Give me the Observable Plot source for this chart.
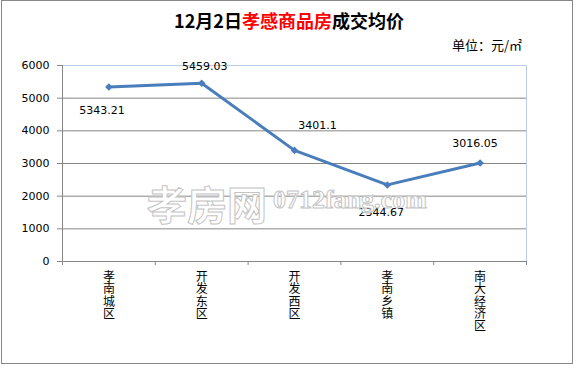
<!DOCTYPE html>
<html><head><meta charset="utf-8">
<script src="https://cdn.jsdelivr.net/npm/d3@7"></script>
<script src="https://cdn.jsdelivr.net/npm/@observablehq/plot@0.6"></script>
<style>
body{margin:0;background:#fff;}
#wrap{position:relative;width:578px;height:366px;overflow:hidden;background:#fff;}
#chart{position:absolute;left:0;top:0;}
#frame{position:absolute;left:1px;top:0;width:572px;height:364px;border:1px solid #888;box-sizing:border-box;pointer-events:none;}
#title{position:absolute;left:0;top:10px;width:578px;text-align:center;font-family:"Noto Sans CJK SC",sans-serif;font-size:18px;line-height:20px;font-weight:700;color:#000;white-space:nowrap;}
#title .red{color:#ff0000;}
#unit{position:absolute;left:452px;top:37px;font-family:"Noto Sans CJK SC",sans-serif;font-size:13px;line-height:16px;color:#000;white-space:nowrap;}
.wm{position:absolute;color:#fff;-webkit-text-stroke:1px #c4c4c4;white-space:nowrap;line-height:1;}
#wm1{left:147px;top:183px;font-family:"Noto Sans CJK SC",sans-serif;font-size:40px;font-weight:700;}
#wm2{left:273px;top:187px;font-family:"Liberation Serif",serif;font-size:26px;font-weight:700;}
</style>
</head><body>
<div id="wrap">
  <div id="chart"></div>
  <div class="wm" id="wm1"></div>
  <div class="wm" id="wm2"></div>
  <div id="title"></div>
  <div id="unit"></div>
  <div id="frame"></div>
</div>
<script>
// ---- data ----
const categories = ["孝南城区", "开发东区", "开发西区", "孝南乡镇", "南大经济区"];
const prices = [5343.21, 5459.03, 3401.1, 2344.67, 3016.05];
const yTicks = [0, 1000, 2000, 3000, 4000, 5000, 6000];
const titleParts = [["12月2日", false], ["孝感商品房", true], ["成交均价", false]];
const unitText = "单位：元/㎡";
const watermark = ["孝房网", "0712fang.com"];

// ---- texts ----
const titleEl = document.getElementById("title");
titleParts.forEach(([t, red]) => {
  const s = document.createElement("span");
  s.textContent = t;
  if (red) s.className = "red";
  titleEl.appendChild(s);
});
document.getElementById("unit").textContent = unitText;
document.getElementById("wm1").textContent = watermark[0];
document.getElementById("wm2").textContent = watermark[1];

// ---- chart ----
const data = categories.map((c, i) => ({i, c, v: prices[i], label: String(prices[i])}));
const labelOffsets = [[-7, 24], [3, -17], [23, -25], [-6, 28], [-5, -20]];
const grid = "#868686";
const border = "#b9cde5";
const lineColor = "#4a7ebb";

const chart = Plot.plot({
  width: 578,
  height: 366,
  marginLeft: 62,
  marginRight: 52,
  marginTop: 65,
  marginBottom: 105,
  style: {fontFamily: "DejaVu Sans, sans-serif", fontSize: "11px", color: "#000", background: "transparent"},
  x: {domain: [0, categories.length], axis: null},
  y: {domain: [0, 6000], axis: null},
  marks: [
    Plot.ruleY(yTicks.filter(t => t > 0 && t < 6000), {stroke: grid, strokeWidth: 1}),
    Plot.ruleY([6000], {stroke: border}),
    Plot.ruleX([categories.length], {stroke: border}),
    Plot.ruleX([0], {stroke: grid}),
    Plot.ruleY([0], {stroke: grid}),
    Plot.axisY(yTicks, {tickSize: 5, tickPadding: 8, stroke: grid, fill: "#000", tickFormat: d => String(d), label: null}),
    Plot.axisX(d3.range(categories.length + 1), {tickSize: 4, stroke: grid, tickFormat: () => "", label: null}),
    Plot.text(data, {
      x: d => d.i + 0.5, text: d => d.c.split("").join("\n"),
      frameAnchor: "bottom", lineAnchor: "top", dy: 11, lineHeight: 1.02,
      fontSize: 12, fontFamily: "Noto Sans CJK SC, sans-serif", fill: "#000"
    }),
    Plot.line(data, {x: d => d.i + 0.5, y: "v", stroke: lineColor, strokeWidth: 3}),
    Plot.dot(data, {x: d => d.i + 0.5, y: "v", symbol: "diamond2", r: 3.4, fill: lineColor, stroke: "none"}),
    ...data.map((d, k) => Plot.text([d], {
      x: e => e.i + 0.5, y: "v", text: "label",
      dx: labelOffsets[k][0], dy: labelOffsets[k][1], fontSize: 11, fill: "#000"
    }))
  ]
});
document.getElementById("chart").appendChild(chart);
</script>
</body></html>
